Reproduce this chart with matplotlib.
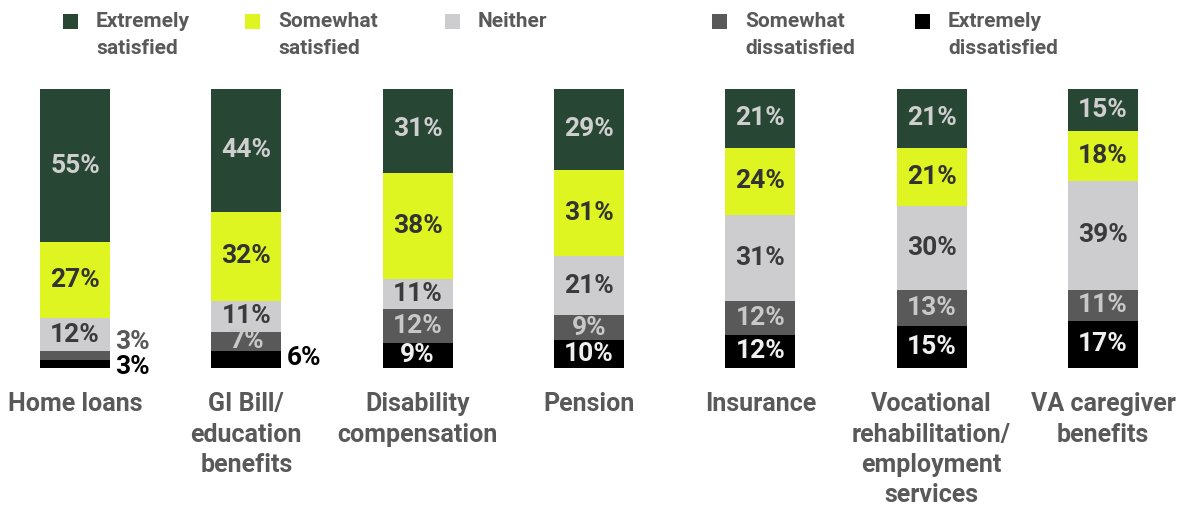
import matplotlib
matplotlib.use("Agg")
import matplotlib.pyplot as plt
from matplotlib.patches import Rectangle

plt.rcParams['font.family'] = ['Roboto', 'DejaVu Sans']

# data
categories = ["Home loans", "GI Bill/\neducation\nbenefits", "Disability\ncompensation",
              "Pension", "Insurance", "Vocational\nrehabilitation/\nemployment\nservices",
              "VA caregiver\nbenefits"]
series_names = ["Extremely\nsatisfied", "Somewhat\nsatisfied", "Neither",
                "Somewhat\ndissatisfied", "Extremely\ndissatisfied"]
ext_sat = [55, 44, 31, 29, 21, 21, 15]
some_sat = [27, 32, 38, 31, 24, 21, 18]
neither = [12, 11, 11, 21, 31, 30, 39]
some_dis = [3, 7, 12, 9, 12, 13, 11]
ext_dis = [3, 6, 9, 10, 12, 15, 17]

colors = ["#284634", "#DEF522", "#CDCDCF", "#595959", "#000000"]
text_colors = ["#CFCFCF", "#333333", "#3A3A3A", "#C8C8C8", "#F0F0F0"]
label_gray = "#595959"

fig = plt.figure(figsize=(11.82, 5.08), dpi=100)
W, H = 1182, 508
ax = fig.add_axes([0, 1 - 368 / H, 1, (368 - 89) / H])

px_per_unit = (1103 - 75) / 6
ax.set_xlim(-75 / px_per_unit, 6 + (W - 1103) / px_per_unit)
ax.set_ylim(0, 100)
ax.axis('off')

bar_w = 70 / px_per_unit
x = list(range(len(categories)))

# stack from the bottom: extremely dissatisfied first
stack = [ext_dis, some_dis, neither, some_sat, ext_sat]
stack_colors = colors[::-1]
stack_text = text_colors[::-1]
bottom = [0] * len(x)
for vals, col, tcol, k in zip(stack, stack_colors, stack_text, range(5)):
    ax.bar(x, vals, bottom=bottom, width=bar_w, color=col, edgecolor='none')
    for i, v in enumerate(vals):
        mid = bottom[i] + v / 2
        if v >= 7:
            ax.text(i, mid, f"{v}%", ha='center', va='center', fontsize=19,
                    fontweight='bold', color=tcol)
        else:
            # small segments labelled outside the bar
            if k == 1:
                c, dy = label_gray, 10
            elif v < 5:
                c, dy = "#000000", -2
            else:
                c, dy = "#000000", 1
            ax.annotate(f"{v}%", (i + bar_w / 2, mid), xytext=(4, dy),
                        textcoords='offset points', ha='left', va='center',
                        fontsize=19, fontweight='bold', color=c)
    bottom = [b + v for b, v in zip(bottom, vals)]

# category labels
for i, cat in enumerate(categories):
    ax.text(i, -8.7, cat, ha='center', va='top', fontsize=18,
            fontweight='bold', color=label_gray, linespacing=1.33)

# legend
legend_x = [63, 245, 445, 712, 915]
for name, col, lx in zip(series_names, colors, legend_x):
    fig.patches.append(Rectangle((lx / W, 1 - 29 / H), 15 / W, 15 / H,
                                 transform=fig.transFigure, facecolor=col,
                                 edgecolor='none'))
    fig.text((lx + 33) / W, 1 - 12 / H, name, ha='left', va='top', fontsize=15,
             fontweight='bold', color=label_gray, linespacing=1.55)

fig.savefig("out.png", dpi=100, facecolor='white')
